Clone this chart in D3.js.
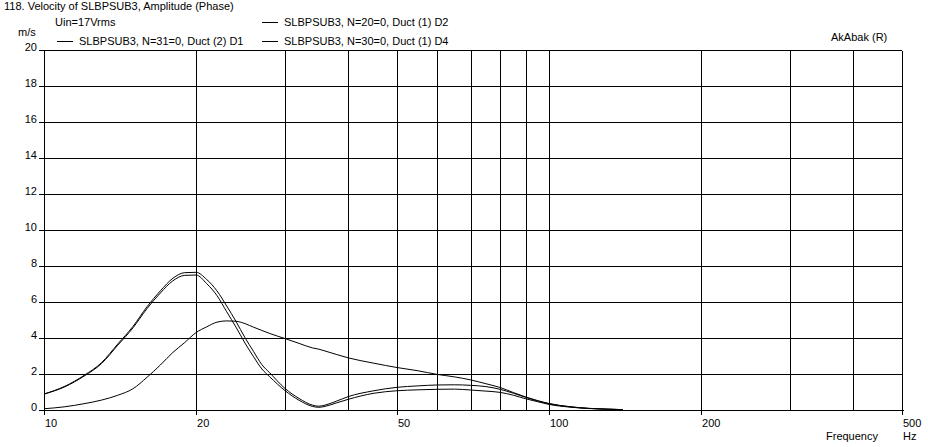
<!DOCTYPE html>
<html>
<head>
<meta charset="utf-8">
<script src="https://cdn.jsdelivr.net/npm/d3@7"></script>
<style>
  html, body { margin: 0; padding: 0; background: #fff; }
  svg { display: block; }
  text { font-family: "Liberation Sans", Arial, sans-serif; font-size: 11px; fill: #000; }
</style>
</head>
<body>
<svg id="chart" width="928" height="447"></svg>
<script>
// ---- data ----
const freqs = [10, 11, 12, 13, 14, 15, 16, 17, 18, 19, 20, 21, 22, 23, 24, 25, 26, 27, 28, 30, 32, 34, 35, 36, 38, 40, 45, 50, 55, 60, 65, 70, 75, 80, 85, 90, 95, 100, 110, 120, 130, 140];
const seriesD1 = [0.07, 0.18, 0.35, 0.55, 0.82, 1.18, 1.82, 2.5, 3.2, 3.75, 4.3, 4.62, 4.88, 4.95, 4.93, 4.8, 4.6, 4.42, 4.25, 3.97, 3.7, 3.45, 3.38, 3.28, 3.08, 2.9, 2.6, 2.36, 2.18, 1.98, 1.84, 1.67, 1.46, 1.25, 0.97, 0.72, 0.52, 0.36, 0.18, 0.09, 0.05, 0.02];
const seriesD2 = [0.89, 1.32, 1.92, 2.63, 3.67, 4.64, 5.74, 6.62, 7.32, 7.63, 7.65, 7.25, 6.62, 5.78, 4.92, 4.02, 3.25, 2.52, 2.06, 1.2, 0.64, 0.27, 0.21, 0.27, 0.5, 0.74, 1.07, 1.26, 1.34, 1.39, 1.4, 1.37, 1.3, 1.15, 0.93, 0.7, 0.5, 0.35, 0.18, 0.09, 0.05, 0.02];
const seriesD4 = [0.88, 1.29, 1.88, 2.58, 3.6, 4.56, 5.64, 6.5, 7.18, 7.48, 7.5, 7.02, 6.36, 5.46, 4.6, 3.72, 2.96, 2.28, 1.84, 1.08, 0.54, 0.2, 0.15, 0.2, 0.4, 0.59, 0.93, 1.07, 1.12, 1.15, 1.16, 1.11, 1.05, 0.98, 0.82, 0.62, 0.46, 0.31, 0.16, 0.08, 0.04, 0.02];
const yTicks = [0, 2, 4, 6, 8, 10, 12, 14, 16, 18, 20];
const xGrid = [20, 30, 40, 50, 60, 70, 80, 90, 100, 200, 300, 400, 500];
const xLabels = [10, 20, 50, 100, 200, 500];
const legendItems = [
  { label: "SLBPSUB3, N=31=0, Duct (2) D1", col: 0, row: 1 },
  { label: "SLBPSUB3, N=20=0, Duct (1) D2", col: 1, row: 0 },
  { label: "SLBPSUB3, N=30=0, Duct (1) D4", col: 1, row: 1 }
];

// ---- chart ----
const svg = d3.select("#chart");
const x = d3.scaleLog().domain([10, 500]).range([44, 902]);
const y = d3.scaleLinear().domain([0, 20]).range([410, 50]);
const px = v => Math.round(v) + 0.5;

const g = svg.append("g").attr("shape-rendering", "crispEdges").attr("stroke", "#000").attr("stroke-width", 1);

// horizontal grid lines (with small tick left of axis)
g.selectAll("line.h").data(yTicks).join("line")
  .attr("x1", 39).attr("x2", d => d === 0 ? 904 : 902)
  .attr("y1", d => px(y(d))).attr("y2", d => px(y(d)));

// vertical grid lines
g.selectAll("line.v").data(xGrid).join("line")
  .attr("x1", d => px(x(d))).attr("x2", d => px(x(d)))
  .attr("y1", px(y(20))).attr("y2", d => xLabels.includes(d) ? px(y(0)) + 4 : px(y(0)));

// y axis line
g.append("line").attr("x1", px(x(10))).attr("x2", px(x(10)))
  .attr("y1", px(y(20))).attr("y2", px(y(0)) + 4);

// y labels
svg.selectAll("text.yl").data(yTicks).join("text")
  .attr("x", 37).attr("y", d => y(d) + 1)
  .attr("text-anchor", "end").text(d => d);

// x labels
svg.selectAll("text.xl").data(xLabels).join("text")
  .attr("x", d => x(d) + 1).attr("y", 427).text(d => d);

// axis titles and captions
svg.append("text").attr("x", 18).attr("y", 36).text("m/s");
svg.append("text").attr("x", 826).attr("y", 440).text("Frequency");
svg.append("text").attr("x", 903).attr("y", 440).text("Hz");
svg.append("text").attr("x", 4).attr("y", 10).text("118. Velocity of SLBPSUB3, Amplitude (Phase)");
svg.append("text").attr("x", 55).attr("y", 26).text("Uin=17Vrms");
svg.append("text").attr("x", 831).attr("y", 41).text("AkAbak (R)");

// legend
const colX = [57, 262];
const rowY = [22, 41];
const lg = svg.selectAll("g.lg").data(legendItems).join("g");
lg.append("line")
  .attr("x1", d => colX[d.col]).attr("x2", d => colX[d.col] + 16)
  .attr("y1", d => rowY[d.row] + 0.5).attr("y2", d => rowY[d.row] + 0.5)
  .attr("stroke", "#000").attr("shape-rendering", "crispEdges");
lg.append("text")
  .attr("x", d => colX[d.col] + 22).attr("y", d => rowY[d.row] + 4)
  .text(d => d.label);

// curves
const line = d3.line()
  .x((d, i) => x(freqs[i]))
  .y(d => y(d))
  .curve(d3.curveMonotoneX);
[seriesD1, seriesD2, seriesD4].forEach(s => {
  svg.append("path").attr("d", line(s))
    .attr("fill", "none").attr("stroke", "#000").attr("stroke-width", 1);
});
</script>
</body>
</html>
